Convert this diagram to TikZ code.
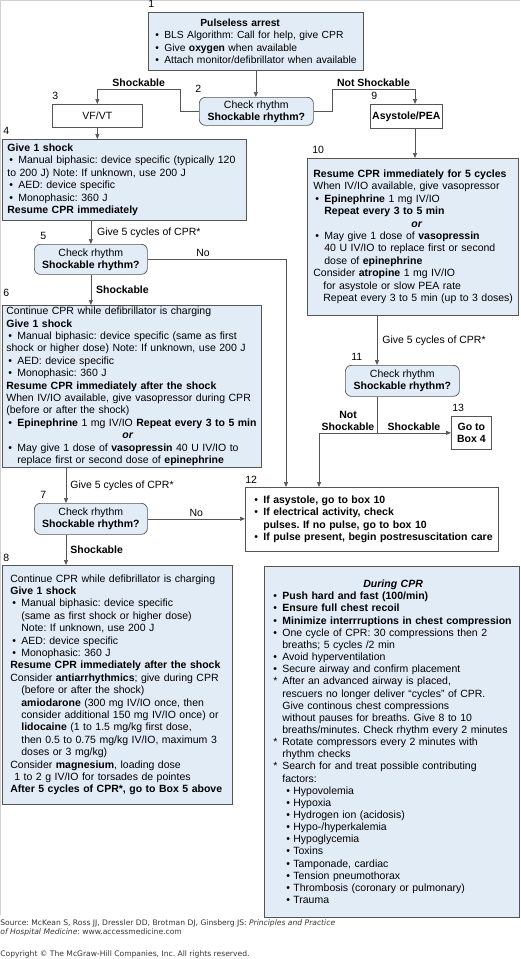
\documentclass[tikz,border=0pt]{standalone}
\usepackage{fontspec}
\setmainfont{Liberation Sans}
\newfontfamily\srcfont{DejaVu Sans}
\usetikzlibrary{arrows.meta}
\frenchspacing
\hyphenpenalty=10000
\exhyphenpenalty=10000

\definecolor{boxblue}{HTML}{E2ECF7}
\definecolor{linegray}{HTML}{555555}
\definecolor{framegray}{HTML}{D0D0D0}
\definecolor{srcgray}{HTML}{333333}

% bullets and hanging indents inside the boxes
\newcommand{\bl}[1][2pt]{\hspace*{#1}\makebox[9pt][l]{\textbullet}}
\newcommand{\st}[1][4pt]{\hspace*{#1}\makebox[9pt][l]{*}}
\newcommand{\sbl}{\hspace*{17pt}\makebox[7pt][l]{\textbullet}}
\newcommand{\ind}[1][11pt]{\hspace*{#1}}

\tikzset{
  every node/.style={font=\fontsize{10.5}{12.4}\selectfont},
  infobox/.style={draw=linegray, fill=boxblue, anchor=north west, align=left, inner xsep=5pt, inner ysep=1pt},
  plainbox/.style={draw=linegray, fill=white, anchor=north west, align=center, inner sep=1pt},
  checkbox/.style={draw=linegray, fill=boxblue, rounded corners=6pt, anchor=north west, align=center, inner sep=1pt, font=\fontsize{10.5}{12}\selectfont},
  num/.style={anchor=south west, inner sep=0pt, yshift=4pt},
  flow/.style={draw=linegray, -{Triangle[length=5pt,width=4pt]}},
  lbl/.style={inner sep=2pt}
}

\begin{document}
\begin{tikzpicture}[x=1pt,y=-1pt,line width=0.7pt]
\useasboundingbox (0,0) rectangle (520,959);
% frame
\draw[framegray] (0.5,915) -- (0.5,0.5) -- (520,0.5);

% start
\node[infobox, inner xsep=1pt, minimum width=215pt, minimum height=58pt, text width=213pt,
  font=\fontsize{10.3}{12.4}\selectfont, label={[num]north west:1}] (arrest) at (148,12)
  {\hspace*{51pt}\textbf{Pulseless arrest}\\
   \bl[6pt]BLS Algorithm: Call for help, give CPR\\
   \bl[6pt]Give \textbf{oxygen} when available\\
   \bl[6pt]Attach monitor/defibrillator when available};
\node[checkbox, minimum width=114pt, minimum height=28pt,
  label={[num,xshift=-4pt]north west:2}] (check2) at (199,97)
  {Check rhythm\\\textbf{Shockable rhythm?}};
\node[plainbox, minimum width=90pt, minimum height=23pt,
  label={[num]north west:3}] (vfvt) at (52,104) {VF/VT};
\node[plainbox, minimum width=72pt, minimum height=24pt,
  label={[num,xshift=1pt]north west:9}] (asys) at (370,104) {\textbf{Asystole/PEA}};

% shockable side
\node[infobox, minimum width=244pt, minimum height=81pt, text width=234pt,
  label={[num,xshift=1pt]north west:4}] (shock1) at (2,139)
  {\textbf{Give 1 shock}\\
   \bl Manual biphasic: device specific (typically 120\\
   to 200 J) Note: If unknown, use 200 J\\
   \bl AED: device specific\\
   \bl Monophasic: 360 J\\
   \textbf{Resume CPR immediately}};
\node[checkbox, minimum width=113pt, minimum height=30pt,
  label={[num,xshift=6pt]north west:5}] (check5) at (34,244)
  {Check rhythm\\\textbf{Shockable rhythm?}};
\node[infobox, inner xsep=4pt, minimum width=259pt, minimum height=162pt, text width=251pt,
  label={[num,xshift=1pt,yshift=4pt]north west:6}] (shock2) at (2,305)
  {Continue CPR while defibrillator is charging\\
   \textbf{Give 1 shock}\\
   \bl Manual biphasic: device specific (same as first\\
   shock or higher dose) Note: If unknown, use 200 J\\
   \bl AED: device specific\\
   \bl Monophasic: 360 J\\
   \textbf{Resume CPR immediately after the shock}\\
   When IV/IO available, give vasopressor during CPR\\
   (before or after the shock)\\
   \bl \textbf{Epinephrine} 1 mg IV/IO \textbf{Repeat every 3 to 5 min}\\
   \hspace*{116pt}\textbf{\textit{or}}\\
   \bl May give 1 dose of \textbf{vasopressin} 40 U IV/IO to\\
   \ind replace first or second dose of \textbf{epinephrine}};
\node[checkbox, minimum width=113pt, minimum height=31pt,
  label={[num,xshift=6pt]north west:7}] (check7) at (34,503)
  {Check rhythm\\\textbf{Shockable rhythm?}};
\node[infobox, inner xsep=8pt, minimum width=230pt, minimum height=239pt, text width=214pt,
  label={[num,xshift=1pt,yshift=-1pt]north west:8}] (shock3) at (2,565)
  {Continue CPR while defibrillator is charging\\
   \textbf{Give 1 shock}\\
   \bl Manual biphasic: device specific\\
   \ind (same as first shock or higher dose)\\
   \ind Note: If unknown, use 200 J\\
   \bl AED: device specific\\
   \bl Monophasic: 360 J\\
   \textbf{Resume CPR immediately after the shock}\\
   Consider \textbf{antiarrhythmics}; give during CPR\\
   \ind (before or after the shock)\\
   \ind \textbf{amiodarone} (300 mg IV/IO once, then\\
   \ind consider additional 150 mg IV/IO once) or\\
   \ind \textbf{lidocaine} (1 to 1.5 mg/kg first dose,\\
   \ind then 0.5 to 0.75 mg/kg IV/IO, maximum 3\\
   \ind doses or 3 mg/kg)\\
   Consider \textbf{magnesium}, loading dose\\
   \ind[4pt]1 to 2 g IV/IO for torsades de pointes\\
   \textbf{After 5 cycles of CPR*, go to Box 5 above}};

% not shockable side
\node[infobox, inner xsep=4pt, minimum width=211pt, minimum height=157pt, text width=203pt,
  label={[num,xshift=5pt]north west:10}] (resume) at (307,158)
  {\hspace*{2pt}\textbf{Resume CPR immediately for 5 cycles}\\
   \hspace*{2pt}When IV/IO available, give vasopressor\\
   \bl[4pt]\textbf{Epinephrine} 1 mg IV/IO\\
   \ind[13pt]\textbf{Repeat every 3 to 5 min}\\
   \hspace*{100pt}\textbf{\textit{or}}\\
   \bl[4pt]May give 1 dose of \textbf{vasopressin}\\
   \ind[13pt]40 U IV/IO to replace first or second\\
   \ind[13pt]dose of \textbf{epinephrine}\\
   \hspace*{2pt}Consider \textbf{atropine} 1 mg IV/IO\\
   \ind[12pt]for asystole or slow PEA rate\\
   \ind[12pt]Repeat every 3 to 5 min (up to 3 doses)};
\node[checkbox, minimum width=114pt, minimum height=31pt,
  label={[num,xshift=6pt]north west:11}] (check11) at (345,365)
  {Check rhythm\\\textbf{Shockable rhythm?}};
\node[plainbox, minimum width=40pt, minimum height=33pt, font=\fontsize{10.5}{12}\selectfont,
  label={[num,xshift=1pt]north west:13}] (gobox) at (451,416)
  {\textbf{Go to}\\\textbf{Box 4}};
\node[infobox, fill=white, minimum width=253pt, minimum height=64pt, text width=243pt,
  label={[num,yshift=-1pt]north west:12}] (result) at (245,487)
  {\bl[4pt]\textbf{If asystole, go to box 10}\\
   \bl[4pt]\textbf{If electrical activity, check}\\
   \ind[13pt]\textbf{pulses. If no pulse, go to box 10}\\
   \bl[4pt]\textbf{If pulse present, begin postresuscitation care}};

% during CPR
\node[infobox, minimum width=255pt, minimum height=351pt, text width=245pt,
  font=\fontsize{10.5}{12.15}\selectfont] (during) at (264,566)
  {\hspace*{94pt}\textbf{\textit{During CPR}}\\
   \bl[4pt]\textbf{Push hard and fast (100/min)}\\
   \bl[4pt]\textbf{Ensure full chest recoil}\\
   \bl[4pt]\textbf{Minimize interrruptions in chest compression}\\
   \bl[4pt]One cycle of CPR: 30 compressions then 2\\
   \ind[13pt]breaths; 5 cycles /2 min\\
   \bl[4pt]Avoid hyperventilation\\
   \bl[4pt]Secure airway and confirm placement\\
   \st After an advanced airway is placed,\\
   \ind[13pt]rescuers no longer deliver “cycles” of CPR.\\
   \ind[13pt]Give continous chest compressions\\
   \ind[13pt]without pauses for breaths. Give 8 to 10\\
   \ind[13pt]breaths/minutes. Check rhythm every 2 minutes\\
   \st Rotate compressors every 2 minutes with\\
   \ind[13pt]rhythm checks\\
   \st Search for and treat possible contributing\\
   \ind[13pt]factors:\\
   \sbl Hypovolemia\\
   \sbl Hypoxia\\
   \sbl Hydrogen ion (acidosis)\\
   \sbl Hypo-/hyperkalemia\\
   \sbl Hypoglycemia\\
   \sbl Toxins\\
   \sbl Tamponade, cardiac\\
   \sbl Tension pneumothorax\\
   \sbl Thrombosis (coronary or pulmonary)\\
   \sbl Trauma};

% connectors
\coordinate (shockbend) at (180,89);
\coordinate (notbend) at (332,89);
\coordinate (c7) at ([xshift=32pt]check7.north west);
\coordinate (c11) at ([xshift=32pt]check11.north west);
\coordinate (split) at (c11 |- gobox.west);

\draw[flow] (arrest.south) -- (arrest.south |- check2.north);
\draw[flow] (check2.west) -| (shockbend) -| node[pos=0.25, above, lbl] {\textbf{Shockable}} (vfvt.north);
\draw[flow] (check2.east) -| (notbend) -| node[pos=0.25, above, lbl] {\textbf{Not Shockable}} ([xshift=45pt]asys.north west);
\draw[flow] (vfvt.south) -- (vfvt.south |- shock1.north);
\draw[flow] ([xshift=45pt]asys.south west) -- ([xshift=45pt]asys.south west |- resume.north);

\draw[flow] (check5.north |- shock1.south) -- node[right=4pt, lbl] {Give 5 cycles of CPR*} (check5.north);
\draw[flow] (check5.east) -| node[pos=0.2, above, lbl] {No} ([xshift=41pt]result.north west);
\draw[flow] (check5.south) -- node[right=3pt, lbl] {\textbf{Shockable}} (check5.south |- shock2.north);
\draw[flow] (c7 |- shock2.south) -- node[right=2pt, lbl] {Give 5 cycles of CPR*} (c7);
\draw[flow] (check7.east) -- node[above, lbl] {No} (check7.east -| result.west);
\draw[flow] (c7 |- check7.south) -- node[right=2pt, lbl] {\textbf{Shockable}} (c7 |- shock3.north);

\draw[flow] (c11 |- resume.south) -- node[right=3pt, lbl] {Give 5 cycles of CPR*} (c11);
\draw[linegray] (c11 |- check11.south) -- (split);
\draw[flow] (split) -- node[above, lbl] {\textbf{Shockable}} (gobox.west);
\draw[flow] (split) -| node[pos=0.25, above, align=center, lbl] {\textbf{Not}\\\textbf{Shockable}} ([xshift=74pt]result.north west);

% source lines
\node[anchor=north west, align=left, inner sep=0pt, text=srcgray,
  font=\srcfont\fontsize{7.6}{9}\selectfont] (source) at (0,919)
  {Source: McKean S, Ross JJ, Dressler DD, Brotman DJ, Ginsberg JS: \textit{Principles and Practice}\\
   \textit{of Hospital Medicine}: www.accessmedicine.com};
\node[anchor=north west, inner sep=0pt, text=srcgray,
  font=\srcfont\fontsize{7.6}{9}\selectfont] (copyright) at (0,950)
  {Copyright © The McGraw-Hill Companies, Inc. All rights reserved.};
\end{tikzpicture}
\end{document}
